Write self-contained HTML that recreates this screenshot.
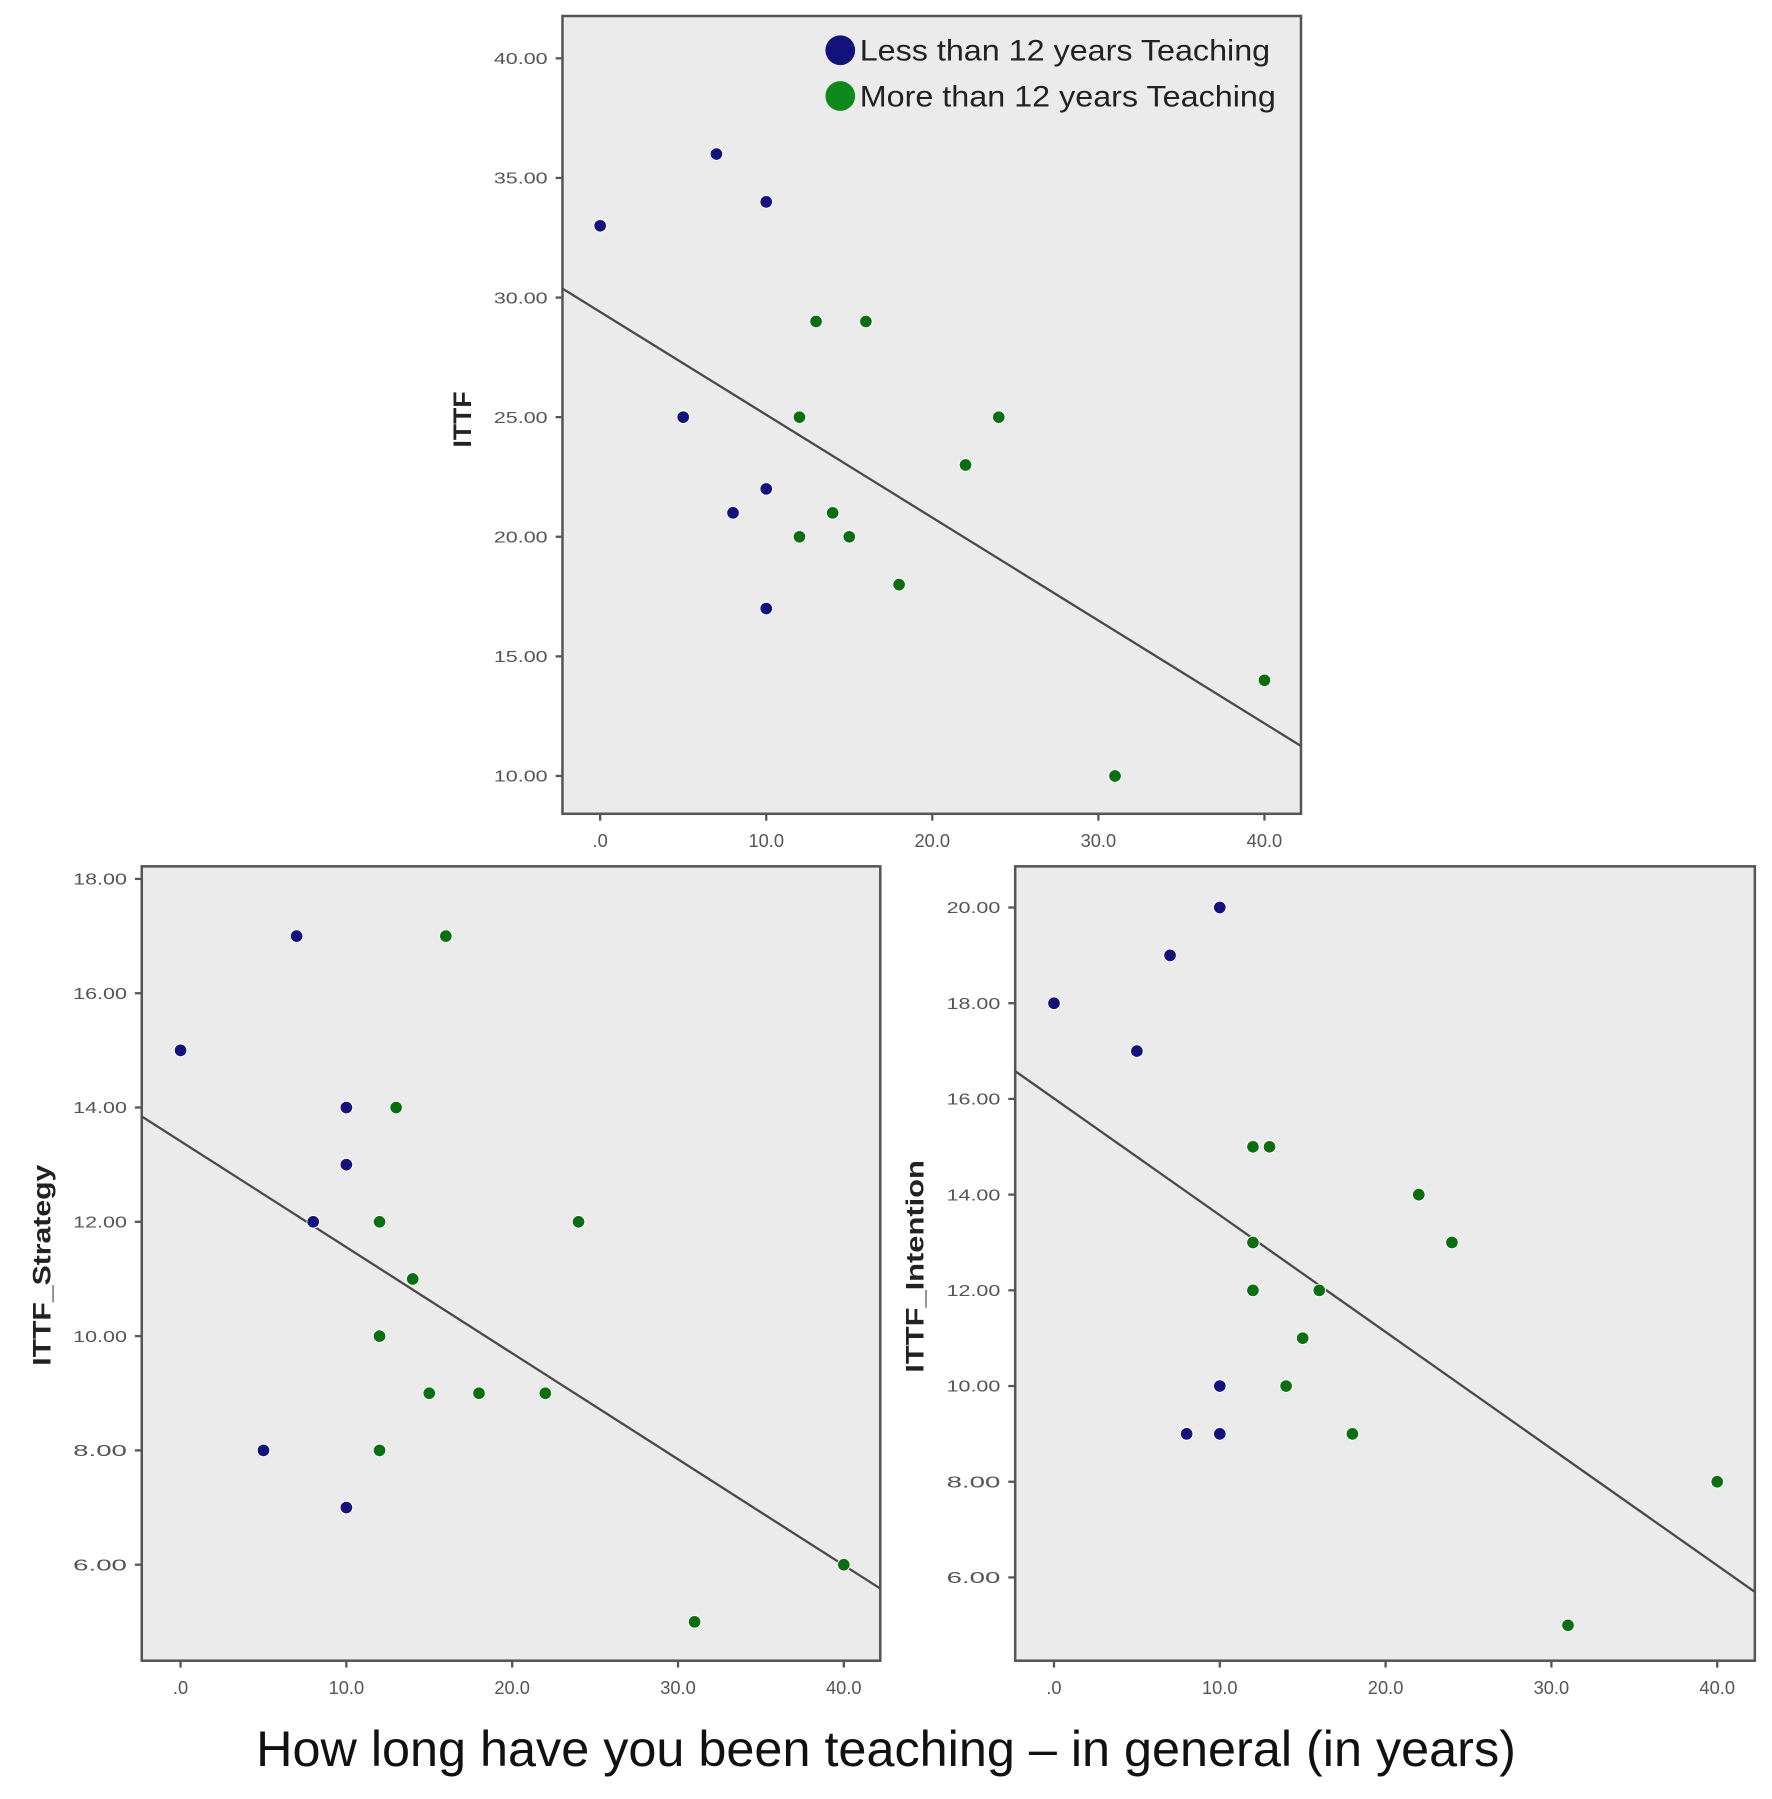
<!DOCTYPE html>
<html><head><meta charset="utf-8"><style>
html,body{margin:0;padding:0;background:#fff;}
svg{display:block;}
text{font-family:"Liberation Sans",sans-serif;}
</style></head><body>
<svg id="chart" width="1772" height="1799" viewBox="0 0 1550 1574" preserveAspectRatio="none" xmlns="http://www.w3.org/2000/svg"></svg>
<script>
// ---- data ----
const ittfLessX = [0,7,10,5,10,8,10];
const ittfLessY = [33,36,34,25,22,21,17];
const ittfMoreX = [13,16,12,24,22,14,12,15,18,40,31];
const ittfMoreY = [29,29,25,25,23,21,20,20,18,14,10];
const stratLessX = [7,0,10,10,8,5,10];
const stratLessY = [17,15,14,13,12,8,7];
const stratMoreX = [16,13,12,24,14,12,15,18,22,12,40,31];
const stratMoreY = [17,14,12,12,11,10,9,9,9,8,6,5];
const intLessX = [10,7,0,5,10,8,10];
const intLessY = [20,19,18,17,10,9,9];
const intMoreX = [12,13,22,24,12,12,16,15,14,18,40,31];
const intMoreY = [15,15,14,13,13,12,12,11,10,9,8,5];
const fitIntercepts = [29.4,13.41,16.01];
const fitSlopes = [-0.43,-0.1855,-0.244];
const xTicks = [0,10,20,30,40];
const xTickLabels = [".0","10.0","20.0","30.0","40.0"];
const ittfTicks = [10,15,20,25,30,35,40];
const stratTicks = [6,8,10,12,14,16,18];
const intTicks = [6,8,10,12,14,16,18,20];
const legendLabels = ["Less than 12 years Teaching","More than 12 years Teaching"];

const NS="http://www.w3.org/2000/svg";
const svg=document.getElementById('chart');
function mk(tag,attrs,parent){const e=document.createElementNS(NS,tag);for(const k in attrs)e.setAttribute(k,attrs[k]);(parent||svg).appendChild(e);return e;}
const BLUE="#12127a", GREEN="#0b6e12";

function panel(cfg){
  const g=mk('g',{});
  
  
  const {x0,x1,y0,y1,xmin,xmax,ymin,ymax}=cfg;
  const sx=v=>x0+(v-xmin)/(xmax-xmin)*(x1-x0);
  const sy=v=>y1-(v-ymin)/(ymax-ymin)*(y1-y0);
  const bg=mk('rect',{x:x0,y:y0,width:x1-x0,height:y1-y0,fill:'#ebebeb',stroke:'#555',"stroke-width":2.2},g);
  
  
  cfg.yTicks.forEach(t=>{
    mk('line',{x1:x0-6,x2:x0,y1:sy(t),y2:sy(t),stroke:'#555',"stroke-width":2},g);
    const tx=mk('text',{x:x0-13,y:sy(t)+5,"text-anchor":"end","font-size":14,fill:'#555',textLength:47,lengthAdjust:'spacingAndGlyphs'},g);
    tx.textContent=t.toFixed(2);
    
    
  });
  xTicks.forEach((t,i)=>{
    mk('line',{x1:sx(t),x2:sx(t),y1:y1,y2:y1+6,stroke:'#555',"stroke-width":2},g);
    const tx=mk('text',{x:sx(t),y:y1+29,"text-anchor":"middle","font-size":16,fill:'#555'},g);
    tx.textContent=xTickLabels[i];
    
    
  });
  const b=fitIntercepts[cfg.idx], m=fitSlopes[cfg.idx];
  const ln=mk('line',{x1:x0,y1:sy(b+m*xmin),x2:x1,y2:sy(b+m*xmax),stroke:'#4a4a4a',"stroke-width":2},g);
  
  
  cfg.lx.forEach((v,i)=>{
    const c=mk('circle',{cx:sx(v),cy:sy(cfg.ly[i]),r:5.5,fill:BLUE,stroke:'#fff',"stroke-width":0.8},g);
    
    
  });
  cfg.mx.forEach((v,i)=>{
    const c=mk('circle',{cx:sx(v),cy:sy(cfg.my[i]),r:5.5,fill:GREEN,stroke:'#fff',"stroke-width":0.8},g);
    
    
  });
  const t=mk('text',{x:cfg.tx,y:cfg.ty,"text-anchor":"middle","font-size":22,"font-weight":"bold",fill:'#222',textLength:cfg.tl,lengthAdjust:'spacingAndGlyphs',transform:`rotate(-90 ${cfg.tx} ${cfg.ty})`},g);
  t.textContent=cfg.title;
  
  
  return g;
}
panel({name:'ittf-panel',idx:0,x0:492,x1:1138,y0:14,y1:712,xmin:-2.27,xmax:42.2,ymin:8.42,ymax:41.77,yTicks:ittfTicks,lx:ittfLessX,ly:ittfLessY,mx:ittfMoreX,my:ittfMoreY,title:'ITTF',tx:412,ty:367,tl:49});
panel({name:'strategy-panel',idx:1,x0:124,x1:770,y0:758,y1:1453,xmin:-2.34,xmax:42.2,ymin:4.32,ymax:18.22,yTicks:stratTicks,lx:stratLessX,ly:stratLessY,mx:stratMoreX,my:stratMoreY,title:'ITTF_Strategy',tx:44,ty:1107,tl:176});
panel({name:'intention-panel',idx:2,x0:888,x1:1535,y0:758,y1:1453,xmin:-2.34,xmax:42.27,ymin:4.26,ymax:20.86,yTicks:intTicks,lx:intLessX,ly:intLessY,mx:intMoreX,my:intMoreY,title:'ITTF_Intention',tx:808,ty:1108,tl:186});

// legend
const lg=mk('g',{});


[BLUE,"#0f8a1a"].forEach((col,i)=>{
  const y=44+i*40;
  const c=mk('circle',{cx:735,cy:y,r:13,fill:col},lg);
  
  
  const t=mk('text',{x:752,y:y+9,"font-size":26,fill:'#222',textLength:i===0?359:364,lengthAdjust:'spacingAndGlyphs'},lg);
  t.textContent=legendLabels[i];
  
  
});
const xt=mk('text',{x:775,y:1545,"text-anchor":"middle","font-size":44,fill:'#111',textLength:1102,lengthAdjust:'spacingAndGlyphs'});
xt.textContent='How long have you been teaching – in general (in years)';


</script>
</body></html>
